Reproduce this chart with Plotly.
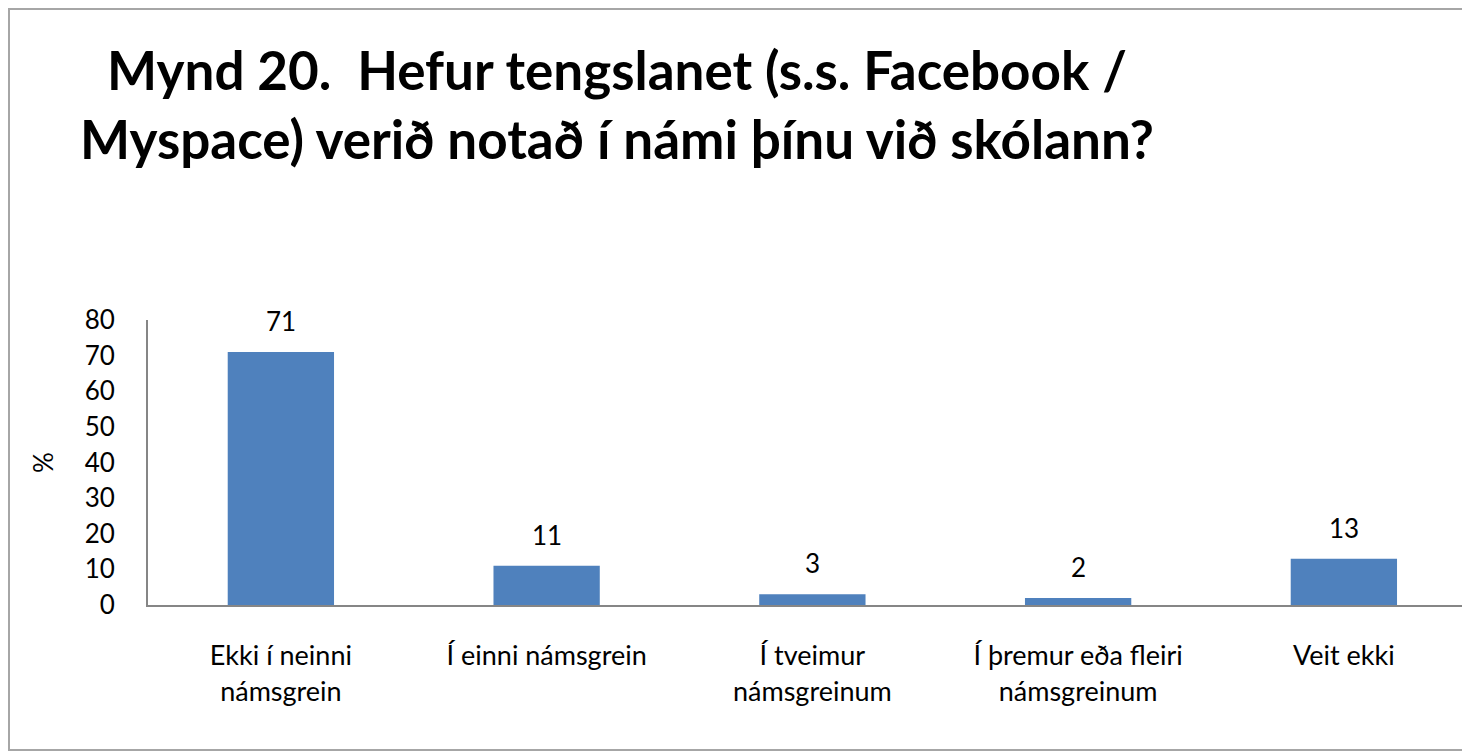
import plotly.graph_objects as go

categories = ["Ekki í neinni<br>námsgrein", "Í einni námsgrein", "Í tveimur<br>námsgreinum",
              "Í þremur eða fleiri<br>námsgreinum", "Veit ekki"]
values = [71, 11, 3, 2, 13]
y_ticks = [0, 10, 20, 30, 40, 50, 60, 70, 80]
title_lines = ["Mynd 20.  Hefur tengslanet (s.s. Facebook /",
               "Myspace) verið notað í námi þínu við skólann?"]

# page body has an 8px margin, so the figure is sized to fit the window
W, H = 1462, 744
L, R, T, B = 140, 0, 312, 147
pw, ph = W - L - R, H - T - B

FONT = "Lato"


def px_x(x):
    return (x - L) / pw


def px_y(y):
    return (H - B - y) / ph


fig = go.Figure()
fig.add_trace(go.Bar(
    x=list(range(len(categories))), y=values,
    width=0.4, marker=dict(color="#4F81BD", line=dict(width=0)),
    hoverinfo="skip", showlegend=False,
))

for i, v in enumerate(values):
    fig.add_annotation(x=i, y=v, xref="x", yref="y", text=str(v), showarrow=False,
                       yanchor="bottom", yshift=13,
                       font=dict(family=FONT, size=26, color="#000000"))

# title, one annotation per line
for k, line in enumerate(title_lines):
    fig.add_annotation(
        x=px_x(609), y=px_y(62 + 68 * k), xref="paper", yref="paper",
        xanchor="center", yanchor="middle", showarrow=False,
        text="<b>" + line + "</b>",
        font=dict(family=FONT, size=53, color="#000000"),
    )

# outer frame
fig.add_shape(type="rect", xref="paper", yref="paper",
              x0=px_x(1), x1=px_x(1480), y0=px_y(742), y1=px_y(1),
              line=dict(color="#A6A6A6", width=2), layer="below")

fig.update_layout(
    width=W, height=H,
    margin=dict(l=L, r=R, t=T, b=B, autoexpand=False),
    plot_bgcolor="white", paper_bgcolor="white",
    bargap=0.6,
    showlegend=False,
)

fig.update_xaxes(
    range=[-0.5, -0.5 + pw / 265.75],
    tickmode="array", tickvals=list(range(len(categories))), ticktext=categories,
    showgrid=False, zeroline=False,
    showline=True, linecolor="#868686", linewidth=2,
    ticks="", ticklabelstandoff=26,
    tickfont=dict(family=FONT, size=27, color="#000000"),
)
fig.update_yaxes(
    range=[0, 80], tickmode="array", tickvals=y_ticks,
    showgrid=False, zeroline=False,
    showline=True, linecolor="#868686", linewidth=2,
    ticks="", ticklabelstandoff=26,
    tickfont=dict(family=FONT, size=26, color="#000000"),
    title=dict(text="%", standoff=24, font=dict(family=FONT, size=26, color="#000000")),
)

fig.write_html("out.html")
